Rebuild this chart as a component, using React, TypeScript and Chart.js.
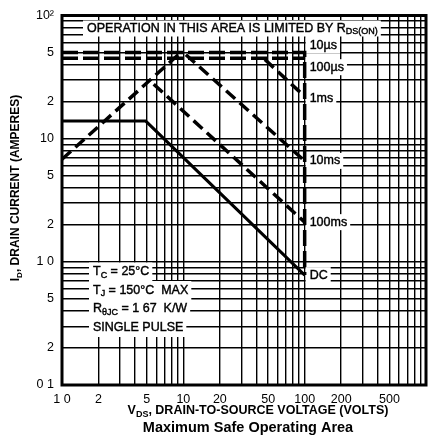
import { useEffect, useRef } from 'react';
import { Chart, registerables } from 'chart.js';
Chart.register(...registerables);

// Grid / tick values
const xGridValues = [1, 2, 3, 4, 5, 6, 7, 8, 9, 10, 20, 30, 40, 50, 60, 70, 80, 90, 100, 200, 300, 400, 500, 600, 700, 800, 900, 1000];
const yGridValues = [0.1, 0.2, 0.3, 0.4, 0.5, 0.6, 0.7, 0.8, 0.9, 1, 2, 3, 4, 5, 6, 7, 8, 9, 10, 20, 30, 40, 50, 60, 70, 80, 90, 100];
const xLabelValues = [1, 2, 5, 10, 20, 50, 100, 200, 500];
const xLabelTexts = ['1 0', '2', '5', '10', '20', '50', '100', '200', '500'];
const yLabelValues = [0.1, 0.2, 0.5, 1, 2, 5, 10, 20, 50, 100];
const yLabelTexts = ['0 1', '2', '5', '1 0', '2', '5', '10', '2', '5', '10²'];

// Curves: VDS (volts) and ID (amperes)
const rdsLimitV = [1, 9.5];
const rdsLimitI = [6.8, 50];
const us10V = [1, 100, 100];
const us10I = [50, 50, 0.78];
const us100V = [1, 100];
const us100I = [45, 45];
const ms1V = [47, 100];
const ms1I = [44, 22];
const ms10V = [10.5, 100];
const ms10I = [48, 6.6];
const ms100V = [5.7, 100];
const ms100I = [27.7, 2.1];
const dcV = [1, 4.9, 100];
const dcI = [13.9, 13.9, 0.78];

// Curve labels (text, curve end current)
const curveLabels = ['10µs', '100µs', '1ms', '10ms', '100ms', 'DC'];
const curveLabelAnchors = [50, 45, 22, 6.6, 2.1, 0.78];

const FONT = "'Liberation Sans', Arial, sans-serif";

type Part = { t: string; sub?: boolean };

function richWidth(ctx: CanvasRenderingContext2D, parts: Part[], size: number, weight: string) {
  let w = 0;
  for (const p of parts) {
    ctx.font = `${weight} ${p.sub ? Math.round(size * 0.68) : size}px ${FONT}`;
    w += ctx.measureText(p.t).width;
  }
  return w;
}

function drawRich(ctx: CanvasRenderingContext2D, parts: Part[], x: number, y: number, size: number, weight: string, align: 'left' | 'center', stroke = 0) {
  const w = richWidth(ctx, parts, size, weight);
  let cx = align === 'center' ? x - w / 2 : x;
  ctx.textBaseline = 'middle';
  ctx.textAlign = 'left';
  ctx.fillStyle = '#000';
  ctx.strokeStyle = '#000';
  ctx.lineWidth = stroke;
  for (const p of parts) {
    ctx.font = `${weight} ${p.sub ? Math.round(size * 0.68) : size}px ${FONT}`;
    const yy = p.sub ? y + size * 0.28 : y;
    ctx.fillText(p.t, cx, yy);
    if (stroke > 0) ctx.strokeText(p.t, cx, yy);
    cx += ctx.measureText(p.t).width;
  }
  return w;
}

function boxedText(ctx: CanvasRenderingContext2D, parts: Part[], x: number, y: number, size: number, halfH = 7) {
  const w = richWidth(ctx, parts, size, 'normal');
  ctx.fillStyle = '#fff';
  ctx.fillRect(x - 4, y - halfH, w + 7, halfH * 2);
  drawRich(ctx, parts, x, y, size, 'normal', 'left', 0.4);
}

function labelFor(values: number[], texts: string[], value: number) {
  const i = values.findIndex((v) => Math.abs(v - value) < v * 1e-6);
  return i >= 0 ? texts[i] : '';
}

const pts = (vs: number[], is: number[]) => vs.map((v, i) => ({ x: v, y: is[i] }));

const annotationPlugin = {
  id: 'soaAnnotations',
  beforeDatasetsDraw(chart: any) {
    const ctx: CanvasRenderingContext2D = chart.ctx;
    const xs = chart.scales.x;
    const ys = chart.scales.y;
    const area = chart.chartArea;
    ctx.save();
    // Top banner
    boxedText(ctx, [{ t: 'OPERATION IN THIS AREA IS LIMITED BY R' }, { t: 'DS(ON)', sub: true }], area.left + 25, area.top + 13, 12.5, 8);
    // Left conditions box
    const lx = area.left + 31;
    boxedText(ctx, [{ t: 'T' }, { t: 'C', sub: true }, { t: ' = 25°C' }], lx, 272, 12.5, 9.5);
    boxedText(ctx, [{ t: 'T' }, { t: 'J', sub: true }, { t: ' = 150°C  MAX' }], lx, 290.5, 12.5, 9.5);
    boxedText(ctx, [{ t: 'R' }, { t: 'θJC', sub: true }, { t: ' = 1 67  K/W' }], lx, 309, 12.5, 9.5);
    boxedText(ctx, [{ t: 'SINGLE PULSE' }], lx, 327.5, 12.5, 9.5);
    // Curve labels at right of 100 V
    const rx = xs.getPixelForValue(100) + 5;
    const offsets = [-7, 9, 2, 0, 0, 0];
    curveLabels.forEach((txt, i) => {
      const y = ys.getPixelForValue(curveLabelAnchors[i]) + offsets[i];
      boxedText(ctx, [{ t: txt }], rx, y, 12.5, 8);
    });
    ctx.restore();
  },
  afterDraw(chart: any) {
    const ctx: CanvasRenderingContext2D = chart.ctx;
    const area = chart.chartArea;
    ctx.save();
    ctx.strokeStyle = '#000';
    ctx.lineWidth = 3;
    ctx.strokeRect(area.left, area.top, area.right - area.left, area.bottom - area.top);
    // X title
    drawRich(ctx, [{ t: 'V' }, { t: 'DS', sub: true }, { t: ', DRAIN-TO-SOURCE VOLTAGE (VOLTS)' }], 258, 411, 12.5, 'bold', 'center');
    drawRich(ctx, [{ t: 'Maximum Safe Operating Area' }], 248, 428, 14.5, 'bold', 'center');
    // Y title
    ctx.translate(16, 188);
    ctx.rotate(-Math.PI / 2);
    drawRich(ctx, [{ t: 'I' }, { t: 'D', sub: true }, { t: ', DRAIN CURRENT (AMPERES)' }], 0, 0, 12, 'bold', 'center');
    ctx.restore();
  },
};

export default function App() {
  const ref = useRef<HTMLCanvasElement>(null);
  useEffect(() => {
    const base = { borderColor: '#000', borderWidth: 3.5, pointRadius: 0, fill: false, showLine: true, tension: 0 };
    const chart = new Chart(ref.current!, {
      type: 'scatter',
      data: {
        datasets: [
          { ...base, data: pts(rdsLimitV, rdsLimitI), borderDash: [12, 6] },
          { ...base, data: pts(us10V, us10I), borderDash: [16, 5] },
          { ...base, data: pts(us100V, us100I), borderDash: [16, 5] },
          { ...base, data: pts(ms1V, ms1I), borderDash: [12, 6] },
          { ...base, data: pts(ms10V, ms10I), borderDash: [12, 6] },
          { ...base, data: pts(ms100V, ms100I), borderDash: [12, 6] },
          { ...base, data: pts(dcV, dcI), borderWidth: 3 },
        ] as any,
      },
      options: {
        animation: false,
        responsive: false,
        layout: { padding: { top: 14, right: 2, left: 0, bottom: 0 } },
        plugins: { legend: { display: false }, tooltip: { enabled: false } },
        scales: {
          x: {
            type: 'logarithmic',
            min: 1,
            max: 1000,
            afterBuildTicks: (s: any) => { s.ticks = xGridValues.map((v) => ({ value: v })); },
            afterFit: (s: any) => { s.height = 53; },
            grid: { color: '#000', lineWidth: 1.4, drawTicks: false },
            border: { display: false },
            ticks: {
              autoSkip: false, maxRotation: 0, padding: 7, color: '#000',
              font: { family: FONT, size: 12.5 },
              callback: (v: any) => labelFor(xLabelValues, xLabelTexts, Number(v)),
            },
          },
          y: {
            type: 'logarithmic',
            min: 0.1,
            max: 100,
            afterBuildTicks: (s: any) => { s.ticks = yGridValues.map((v) => ({ value: v })); },
            afterFit: (s: any) => { s.width = 62; },
            grid: { color: '#000', lineWidth: 1.4, drawTicks: false },
            border: { display: false },
            ticks: {
              autoSkip: false, padding: 8, color: '#000',
              font: { family: FONT, size: 12.5 },
              callback: (v: any) => labelFor(yLabelValues, yLabelTexts, Number(v)),
            },
          },
        },
      } as any,
      plugins: [annotationPlugin],
    });
    return () => chart.destroy();
  }, []);
  return (
    <div style={{ position: 'fixed', left: 0, top: 0, width: 433, height: 438, background: '#fff' }}>
      <canvas ref={ref} width={433} height={438} style={{ display: 'block' }} />
    </div>
  );
}
